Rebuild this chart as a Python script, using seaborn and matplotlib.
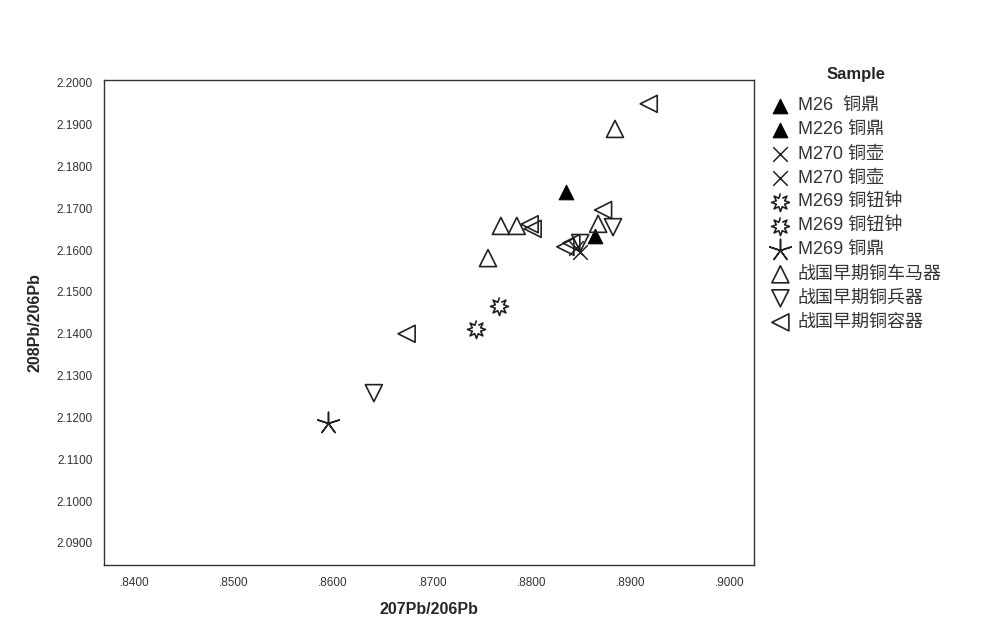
import matplotlib
matplotlib.use('Agg')
import numpy as np
import matplotlib.pyplot as plt
import seaborn as sns
from matplotlib.ticker import FixedLocator, FuncFormatter

# 图例类别（按参考图顺序）
labels = ['M26  铜鼎', 'M226 铜鼎', 'M270 铜壶', 'M270 铜壶', 'M269 铜钮钟',
          'M269 铜钮钟', 'M269 铜鼎', '战国早期铜车马器', '战国早期铜兵器', '战国早期铜容器']

# 207Pb/206Pb
x_vals = [
    [0.8835],
    [0.8864],
    [0.8845],
    [0.8849],
    [0.8767],
    [0.8744],
    [0.8595],
    [0.8884, 0.8867, 0.8769, 0.8785, 0.8756],
    [0.8882, 0.8849, 0.8641],
    [0.8918, 0.8872, 0.8798, 0.8801, 0.8834, 0.8840, 0.8674],
]
# 208Pb/206Pb
y_vals = [
    [2.1740],
    [2.1634],
    [2.1605],
    [2.1596],
    [2.1466],
    [2.1412],
    [2.1186],
    [2.1890, 2.1663, 2.1658, 2.1658, 2.1581],
    [2.1655, 2.1617, 2.1258],
    [2.1950, 2.1696, 2.1662, 2.1651, 2.1608, 2.1617, 2.1400],
]

# SPSS 风格的“太阳”标记：8 角星，中心空心
ang = np.linspace(0, 2 * np.pi, 17)[:-1] + np.pi / 2
rad = np.where(np.arange(16) % 2 == 0, 1.0, 0.5)
sun = list(zip(rad * np.cos(ang), rad * np.sin(ang)))

markers = ['^', '^', 'x', 'x', sun, sun, (5, 2, 0), '^', 'v', '<']
filled = [True, True, False, False, 'white', 'white', False, 'none', 'none', 'none']
sizes = [110, 110, 110, 110, 170, 170, 260, 150, 150, 150]

sns.set_theme(style='white')
plt.rcParams['font.family'] = ['Liberation Sans', 'Noto Sans CJK SC', 'DejaVu Sans']
plt.rcParams['axes.unicode_minus'] = False

fig = plt.figure(figsize=(9.92, 6.3), dpi=100)
ax = fig.add_axes([0.1048, 0.1032, 0.6552, 0.7698])

for lab, xs, ys, m, f, s in zip(labels, x_vals, y_vals, markers, filled, sizes):
    if f is True:
        sns.scatterplot(x=xs, y=ys, marker=m, s=s, color='black', edgecolor='black',
                        linewidth=0.8, label=lab, ax=ax)
    elif f is False:
        sns.scatterplot(x=xs, y=ys, marker=m, s=s, color='#222222', linewidth=1.1,
                        label=lab, ax=ax)
    else:
        sns.scatterplot(x=xs, y=ys, marker=m, s=s, facecolor=f, edgecolor='#222222',
                        linewidth=1.2, label=lab, ax=ax)

ax.set_xlim(0.8369, 0.9024)
ax.set_ylim(2.0847, 2.2007)
ax.xaxis.set_major_locator(FixedLocator([0.84, 0.85, 0.86, 0.87, 0.88, 0.89, 0.90]))
ax.yaxis.set_major_locator(FixedLocator([2.09 + 0.01 * i for i in range(12)]))
ax.xaxis.set_major_formatter(FuncFormatter(lambda v, p: f'{v:.4f}'.lstrip('0')))
ax.yaxis.set_major_formatter(FuncFormatter(lambda v, p: f'{v:.4f}'))
ax.tick_params(axis='both', length=0, labelsize=8.5, colors='#333333')
ax.tick_params(axis='x', pad=9)
ax.tick_params(axis='y', pad=8)

for sp in ax.spines.values():
    sp.set_visible(True)
    sp.set_color('#333333')
    sp.set_linewidth(1.0)

ax.set_xlabel('207Pb/206Pb', fontsize=11.5, fontweight='bold', labelpad=9)
ax.set_ylabel('208Pb/206Pb', fontsize=11.5, fontweight='bold', labelpad=10)

leg = ax.legend(title='Sample', loc='upper left', bbox_to_anchor=(1.006, 1.052),
                frameon=False, fontsize=13, title_fontproperties={'weight': 'bold', 'size': 12},
                handletextpad=0.4, labelspacing=0.39, borderaxespad=0.3,
                handlelength=1.1, markerscale=1.0)
leg._legend_box.sep = 11
for t in leg.get_texts():
    t.set_color('#333333')

fig.savefig('out.png', dpi=100, facecolor='white')
